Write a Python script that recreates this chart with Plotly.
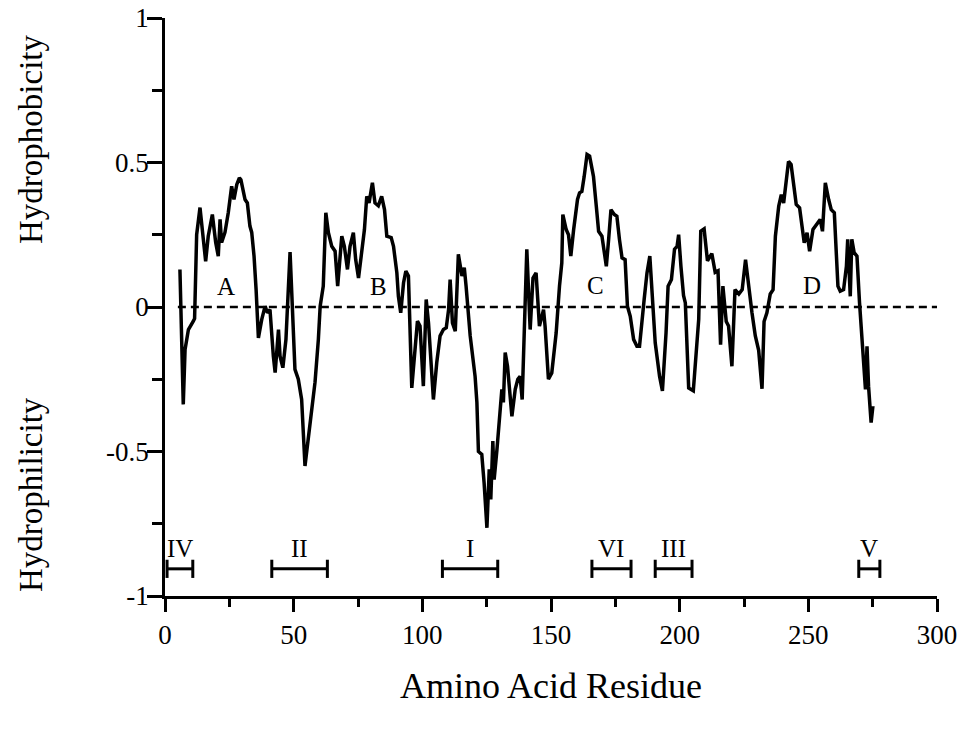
import plotly.graph_objects as go

# Hydropathy profile (residue number, value)
residue = [5.8, 6.6, 7.1, 7.8, 9.1, 11.0, 11.5, 12.3, 13.6, 14.9, 15.8, 16.8, 18.4, 19.7, 20.7, 21.4, 22.0, 23.3, 24.6, 25.9,
           26.8, 27.9, 28.9, 29.5, 31.1, 32.0, 33.0, 33.7, 34.6, 35.4, 36.3, 37.6, 38.9, 39.8, 40.8, 42.1, 42.8, 44.1, 44.7, 45.8,
           47.0, 48.6, 50.5, 51.8, 53.1, 54.4, 56.4, 58.3, 59.6, 60.3, 61.5, 62.5, 63.5, 64.8, 66.1, 67.1, 68.7, 69.7, 70.9, 71.9,
           73.2, 74.1, 75.2, 76.2, 77.5, 78.4, 79.3, 80.6, 81.6, 82.9, 84.2, 85.3, 86.2, 87.9, 88.8, 90.1, 90.7, 91.6, 92.7, 93.6,
           94.6, 95.9, 97.2, 98.1, 99.1, 100.4, 101.5, 102.4, 104.3, 105.6, 106.9, 108.2, 109.3, 110.2, 110.8, 111.7, 112.8, 114.0, 115.4, 116.3,
           117.0, 118.6, 120.5, 121.2, 121.8, 123.1, 124.0, 125.1, 126.0, 126.6, 127.4, 127.9, 129.0, 130.0, 130.9, 131.5, 132.2, 133.1, 134.8, 136.1,
           137.1, 138.0, 138.8, 140.6, 141.9, 143.0, 144.2, 145.5, 147.1, 147.7, 149.0, 150.3, 152.0, 153.3, 154.2, 154.6, 155.9, 156.8, 157.7, 158.8,
           160.3, 161.1, 162.0, 162.9, 164.0, 165.0, 166.5, 167.6, 168.5, 169.8, 170.7, 171.5, 172.4, 173.3, 174.6, 175.6, 176.6, 177.6, 178.8, 179.7,
           180.8, 182.1, 183.4, 184.4, 186.2, 187.3, 188.4, 189.2, 190.5, 192.2, 193.3, 194.7, 195.5, 196.8, 198.0, 199.0, 199.6, 200.5, 201.5, 202.2,
           203.5, 205.3, 206.8, 207.4, 208.2, 209.5, 210.8, 212.5, 213.8, 214.9, 215.9, 216.8, 218.1, 219.0, 220.3, 221.5, 223.0, 224.3, 225.6, 226.6,
           228.1, 229.4, 230.7, 232.0, 232.8, 233.9, 235.2, 236.3, 237.2, 238.5, 239.5, 240.4, 241.4, 242.3, 243.3, 244.3, 245.3, 246.6, 247.5, 248.4,
           249.5, 250.5, 251.8, 253.4, 254.6, 255.5, 256.6, 257.9, 258.9, 260.1, 260.8, 261.5, 262.4, 263.7, 264.8, 265.3, 266.3, 266.9, 267.8, 268.9,
           269.9, 270.8, 271.5, 272.2, 272.8, 273.4, 274.4, 275.1]
hydropathy = [0.13, -0.10, -0.337, -0.147, -0.078, -0.049, -0.04, 0.25, 0.344, 0.234, 0.158, 0.245, 0.32, 0.223, 0.176, 0.303, 0.223, 0.258, 0.327, 0.418,
              0.372, 0.424, 0.447, 0.44, 0.372, 0.36, 0.28, 0.258, 0.176, 0.06, -0.107, -0.043, 0.003, -0.02, -0.009, -0.17, -0.227, -0.078, -0.17, -0.21,
              -0.112, 0.19, -0.216, -0.25, -0.32, -0.55, -0.41, -0.26, -0.112, 0.003, 0.072, 0.326, 0.257, 0.21, 0.193, 0.072, 0.245, 0.21, 0.13, 0.21,
              0.257, 0.164, 0.10, 0.164, 0.268, 0.383, 0.36, 0.43, 0.36, 0.35, 0.383, 0.337, 0.245, 0.24, 0.21, 0.118, 0.037, -0.02, 0.084, 0.124,
              0.107, -0.28, -0.124, -0.049, -0.066, -0.274, 0.026, -0.055, -0.32, -0.193, -0.1, -0.078, -0.072, -0.009, 0.095, -0.055, -0.084, 0.182, 0.107, 0.136,
              0.072, -0.1, -0.24, -0.33, -0.5, -0.51, -0.608, -0.764, -0.562, -0.666, -0.464, -0.597, -0.493, -0.378, -0.285, -0.33, -0.158, -0.205, -0.378, -0.285,
              -0.25, -0.24, -0.32, 0.2, -0.078, 0.1, 0.118, -0.066, -0.009, -0.066, -0.25, -0.228, -0.09, 0.072, 0.153, 0.32, 0.268, 0.25, 0.176, 0.268,
              0.372, 0.395, 0.4, 0.452, 0.528, 0.522, 0.452, 0.349, 0.262, 0.245, 0.188, 0.141, 0.234, 0.337, 0.32, 0.314, 0.234, 0.17, 0.164, 0.003,
              -0.032, -0.112, -0.136, -0.136, 0.026, 0.118, 0.176, 0.049, -0.124, -0.24, -0.29, -0.09, 0.072, 0.095, 0.2, 0.21, 0.25, 0.14, 0.04, 0.014,
              -0.28, -0.29, -0.08, -0.043, 0.262, 0.27, 0.16, 0.185, 0.12, 0.125, -0.13, 0.072, -0.05, -0.066, -0.205, 0.06, 0.045, 0.06, 0.164, 0.084,
              -0.02, -0.1, -0.15, -0.283, -0.05, -0.02, 0.045, 0.06, 0.245, 0.349, 0.389, 0.36, 0.447, 0.504, 0.493, 0.418, 0.355, 0.343, 0.28, 0.222,
              0.257, 0.193, 0.268, 0.291, 0.303, 0.262, 0.43, 0.372, 0.337, 0.326, 0.21, 0.072, 0.055, 0.06, 0.141, 0.234, 0.037, 0.234, 0.188, 0.176,
              0.014, -0.112, -0.228, -0.285, -0.136, -0.274, -0.4, -0.343]

# Zero reference line extent
zero_x = [5, 300]
zero_y = [0, 0]

# Hydrophobic region letters
region_letters = ["A", "B", "C", "D"]
region_x = [23.7, 82.8, 167.2, 251.6]
region_y = [0.072, 0.072, 0.076, 0.076]

# Bracketed segments (start, end, label)
seg_labels = ["IV", "II", "I", "VI", "III", "V"]
seg_start = [0.8, 41.5, 107.8, 165.9, 190.5, 269.6]
seg_end = [10.8, 63.1, 129.3, 181.1, 204.8, 277.8]
seg_y = -0.906
seg_label_y = -0.835

FONT = "Liberation Serif, Times New Roman, serif"

# figure geometry (page body margin removed by post_script)
W, H = 961, 732
ML, MR, MT, MB = 165, 24, 18, 136
PW, PH = W - ML - MR, H - MT - MB

fig = go.Figure()

fig.add_trace(go.Scatter(x=zero_x, y=zero_y, mode="lines",
                         line=dict(color="black", width=2.5, dash="8px,5px"),
                         hoverinfo="skip", showlegend=False))

fig.add_trace(go.Scatter(x=residue, y=hydropathy, mode="lines",
                         line=dict(color="black", width=3.5),
                         showlegend=False))

for s, e, lab in zip(seg_start, seg_end, seg_labels):
    fig.add_trace(go.Scatter(x=[s, e], y=[seg_y, seg_y], mode="lines+markers",
                             line=dict(color="black", width=3),
                             marker=dict(symbol="line-ns", size=13,
                                         line=dict(color="black", width=3)),
                             showlegend=False, hoverinfo="skip"))
    fig.add_annotation(x=(s + e) / 2, y=seg_label_y, text=lab, showarrow=False,
                       xanchor="center", yanchor="middle",
                       font=dict(family=FONT, size=25, color="black"))

for lab, x, y in zip(region_letters, region_x, region_y):
    fig.add_annotation(x=x, y=y, text=lab, showarrow=False,
                       xanchor="center", yanchor="middle",
                       font=dict(family=FONT, size=25, color="black"))


def px_to_paper(px, py):
    # page pixel -> paper coords
    return (px - ML) / PW, 1 - (py - MT) / PH


ax_, ay_ = px_to_paper(551, 686)
fig.add_annotation(xref="paper", yref="paper", x=ax_, y=ay_, xanchor="center", yanchor="middle",
                   text="Amino Acid Residue", showarrow=False,
                   font=dict(family=FONT, size=36, color="black"))
hx, hy = px_to_paper(31, 140)
fig.add_annotation(xref="paper", yref="paper", x=hx, y=hy, xanchor="center", yanchor="middle",
                   text="Hydrophobicity", showarrow=False, textangle=-90,
                   font=dict(family=FONT, size=33, color="black"))
lx, ly = px_to_paper(31, 495)
fig.add_annotation(xref="paper", yref="paper", x=lx, y=ly, xanchor="center", yanchor="middle",
                   text="Hydrophilicity", showarrow=False, textangle=-90,
                   font=dict(family=FONT, size=33, color="black"))

fig.update_layout(
    width=W, height=H,
    margin=dict(l=ML, r=MR, t=MT, b=MB, autoexpand=False),
    paper_bgcolor="white", plot_bgcolor="white",
    font=dict(family=FONT, size=27, color="black"),
    showlegend=False,
)
fig.update_xaxes(range=[0, 300], tickmode="array", tickvals=[0, 50, 100, 150, 200, 250, 300],
                 ticktext=["0", "50", "100", "150", "200", "250", "300"],
                 automargin=False,
                 showgrid=False, zeroline=False, showline=True, linecolor="black", linewidth=2.5,
                 ticks="outside", ticklen=13, tickwidth=2.5, tickcolor="black",
                 ticklabeloverflow="allow",
                 minor=dict(tickvals=[25, 75, 125, 175, 225, 275], ticks="outside", ticklen=8,
                            tickwidth=2.5, tickcolor="black", showgrid=False),
                 tickfont=dict(family=FONT, size=27, color="black"))
fig.update_yaxes(range=[-1, 1], tickmode="array", tickvals=[-1, -0.5, 0, 0.5, 1],
                 ticktext=["-1", "-0.5", "0", "0.5", "1"],
                 automargin=False,
                 showgrid=False, zeroline=False, showline=True, linecolor="black", linewidth=2.5,
                 ticks="outside", ticklen=15, tickwidth=2.5, tickcolor="black",
                 ticklabeloverflow="allow", ticklabelstandoff=-7,
                 minor=dict(tickvals=[-0.75, -0.25, 0.25, 0.75], ticks="outside", ticklen=10,
                            tickwidth=2.5, tickcolor="black", showgrid=False),
                 tickfont=dict(family=FONT, size=27, color="black"))

fig.write_html("out.html",
               config={"displayModeBar": False},
               post_script="document.body.style.margin='0';document.body.style.overflow='hidden';")
